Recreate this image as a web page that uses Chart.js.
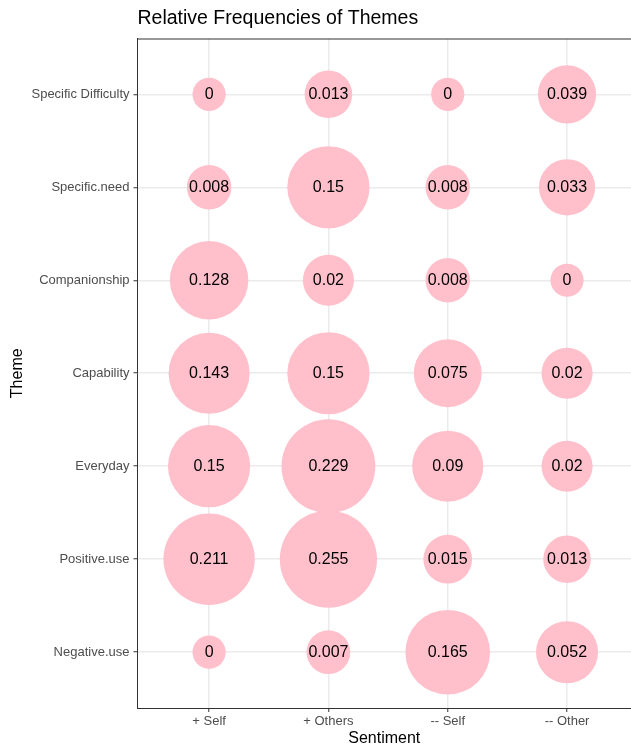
<!DOCTYPE html>
<html>
<head>
<meta charset="utf-8">
<script src="https://cdn.jsdelivr.net/npm/chart.js@4.4.1/dist/chart.umd.min.js"></script>
<style>
  body { margin: 0; background: #fff; }
  canvas { display: block; }
</style>
</head>
<body>
<canvas id="bubbleChart" width="631" height="748"></canvas>
<script>
// Categorias
var sentiments = ['+ Self', '+ Others', '-- Self', '-- Other'];
var themes = ['Negative.use', 'Positive.use', 'Everyday', 'Capability', 'Companionship', 'Specific.need', 'Specific Difficulty'];

// Frecuencias relativas por sentimiento (mismo orden que themes, de abajo hacia arriba)
var selfPos = [0, 0.211, 0.15, 0.143, 0.128, 0.008, 0];
var othersPos = [0.007, 0.255, 0.229, 0.15, 0.02, 0.15, 0.013];
var selfNeg = [0.165, 0.015, 0.09, 0.075, 0.008, 0.008, 0];
var otherNeg = [0.052, 0.013, 0.02, 0.02, 0, 0.033, 0.039];

var series = [selfPos, othersPos, selfNeg, otherNeg];
var FONT = "'Liberation Sans', Arial, sans-serif";

// radio proporcional a la raiz (como scale_size)
function radio(v) {
    return 16.6 + 63.3 * Math.sqrt(v);
}

var puntos = [];
series.forEach(function (valores, i) {
    valores.forEach(function (v, j) {
        puntos.push({ x: i, y: j, r: radio(v), valor: v });
    });
});

// sin relleno extra alrededor del area del grafico
function sinPadding(scale) {
    scale.paddingTop = 0;
    scale.paddingBottom = 0;
    scale.paddingLeft = 0;
    scale.paddingRight = 0;
}

// Titulo, borde del panel y etiquetas de burbujas
var extras = {
    id: 'extras',
    afterDatasetsDraw: function (chart) {
        var ctx = chart.ctx;
        var meta = chart.getDatasetMeta(0);
        ctx.save();
        ctx.fillStyle = '#000';
        ctx.font = '16px ' + FONT;
        ctx.textAlign = 'center';
        ctx.textBaseline = 'middle';
        meta.data.forEach(function (el, k) {
            ctx.fillText(String(puntos[k].valor), el.x, el.y);
        });
        ctx.restore();
    },
    afterDraw: function (chart) {
        var ctx = chart.ctx;
        var a = chart.chartArea;
        ctx.save();
        ctx.strokeStyle = '#333333';
        ctx.lineWidth = 1;
        ctx.beginPath();
        ctx.moveTo(a.left, a.top + 0.5);
        ctx.lineTo(a.right + 2, a.top + 0.5);
        ctx.stroke();
        ctx.fillStyle = '#000';
        ctx.font = '19.5px ' + FONT;
        ctx.textAlign = 'left';
        ctx.textBaseline = 'alphabetic';
        ctx.fillText('Relative Frequencies of Themes', a.left, 24);
        ctx.restore();
    }
};

var ctx = document.getElementById('bubbleChart').getContext('2d');
new Chart(ctx, {
    type: 'bubble',
    data: {
        datasets: [{
            label: 'Frecuencia',
            data: puntos,
            backgroundColor: '#FFC0CB',
            borderWidth: 0,
            hoverBorderWidth: 0
        }]
    },
    options: {
        responsive: false,
        animation: false,
        devicePixelRatio: 1,
        layout: {
            autoPadding: false,
            padding: { top: 38.5, right: 0, bottom: 0, left: 0 }
        },
        plugins: {
            legend: { display: false },
            tooltip: { enabled: false }
        },
        scales: {
            x: {
                type: 'linear',
                position: 'bottom',
                min: -0.6,
                max: 3.536,
                afterBuildTicks: function (scale) {
                    scale.ticks = sentiments.map(function (s, i) { return { value: i }; });
                },
                afterFit: function (scale) {
                    scale.height = 40;
                    sinPadding(scale);
                },
                ticks: {
                    autoSkip: false,
                    maxRotation: 0,
                    padding: 2,
                    color: '#4D4D4D',
                    font: { family: FONT, size: 13 },
                    callback: function (v) { return sentiments[v]; }
                },
                grid: { color: '#EBEBEB', tickColor: '#333333', tickLength: 4, lineWidth: 1.5, tickWidth: 1 },
                border: { color: '#333333', width: 1 },
                title: {
                    display: true,
                    text: 'Sentiment',
                    color: '#000',
                    font: { family: FONT, size: 16 },
                    padding: { top: 0, bottom: 0 }
                }
            },
            y: {
                type: 'linear',
                min: -0.6,
                max: 6.6,
                afterBuildTicks: function (scale) {
                    scale.ticks = themes.map(function (t, i) { return { value: i }; });
                },
                afterFit: function (scale) {
                    scale.width = 137.5;
                    sinPadding(scale);
                },
                ticks: {
                    autoSkip: false,
                    padding: 4,
                    color: '#4D4D4D',
                    font: { family: FONT, size: 13 },
                    callback: function (v) { return themes[v]; }
                },
                grid: { color: '#EBEBEB', tickColor: '#333333', tickLength: 4, lineWidth: 1.5, tickWidth: 1 },
                border: { color: '#333333', width: 1 },
                title: {
                    display: true,
                    text: 'Theme',
                    color: '#000',
                    font: { family: FONT, size: 16 },
                    padding: { top: 8, bottom: 0 }
                }
            }
        }
    },
    plugins: [extras]
});
</script>
</body>
</html>
